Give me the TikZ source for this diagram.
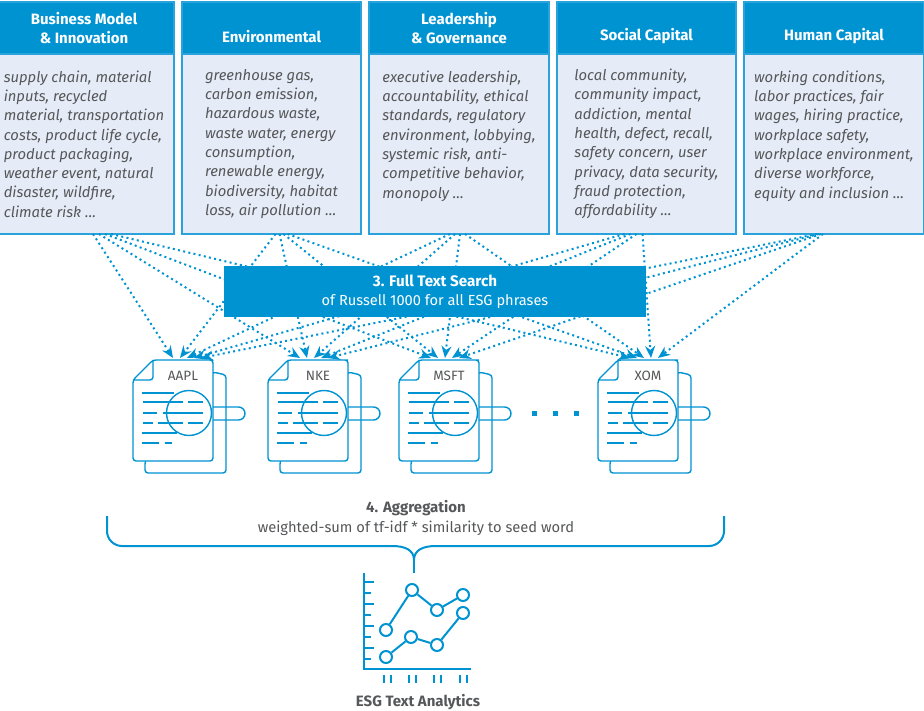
\documentclass[tikz,border=0pt]{standalone}
\usepackage{fontspec}
\setmainfont{Fira Sans}
\usetikzlibrary{positioning, arrows.meta}
\definecolor{esgblue}{HTML}{0093D2}
\definecolor{esgedge}{HTML}{2AA3DC}
\definecolor{esgpale}{HTML}{E6ECF7}
\definecolor{esggrey}{HTML}{555759}
\newcommand{\fs}[2][19.4]{\fontsize{#2}{#1}\selectfont}
\tikzset{
  headbox/.style={draw=esgedge, fill=esgblue, line width=2pt, text=white, align=center, font=\fs[18.6]{15}\bfseries, minimum height=52pt, inner sep=0pt, outer sep=0pt},
  bodybox/.style={draw=esgedge, fill=esgpale, line width=2pt, text=esggrey, align=left, font=\fs[19.3]{14.8}\itshape, minimum height=180pt, inner sep=0pt, outer sep=0pt, execute at end node={\\[-12.4pt]\mbox{}}},
  dotline/.style={esgblue, line width=2pt, dash pattern=on 2pt off 3.3pt, -{Stealth[length=12pt,width=10pt]}},
  iconline/.style={esgblue, line width=1.4pt},
  chartline/.style={esgblue, line width=2pt},
  marker/.style={circle, draw=esgblue, fill=white, line width=2pt, minimum size=12pt, inner sep=0pt},
  gapdot/.style={fill=esgblue, minimum size=5pt, inner sep=0pt},
  docicon/.pic={
    \draw[iconline, fill=white, rounded corners=3pt] (12,101) -- (12,113) -- (93,113) -- (93,15) -- (80,12) -- cycle;
    \draw[iconline, fill=white, rounded corners=3pt] (20,0) -- (77,0) -- (80,0) -- (80,101) -- (0,101) -- (0,20) -- cycle;
    \draw[iconline, rounded corners=3pt] (20,0) -- (20,20) -- (0,20);
    \draw[iconline] (9,33) -- (41,33);
    \draw[iconline] (10,42) -- (50,42) (55,42) -- (70,42);
    \draw[iconline] (10,53) -- (24,53) (30,53) -- (70,53);
    \draw[iconline] (10,63) -- (20,63) (25,63) -- (50,63) (55,63) -- (70,63);
    \draw[iconline] (9,73) -- (44,73);
    \draw[iconline] (9,83) -- (26,83) (32,83) -- (39,83);
    \draw[iconline] (56,53) circle[radius=22.5pt];
    \draw[iconline, rounded corners=6.5pt] (80,47) -- (112,47) -- (112,60) -- (80,60);
    \node[text=esggrey, font=\fs{13.5}, inner sep=0pt] (-name) at (50,16) {#1};
    \coordinate (-top) at (0,-2);
  }
}
\begin{document}
\begin{tikzpicture}[x=1pt, y=-1pt]
  \useasboundingbox (0,0) rectangle (924,711);

  \node[headbox, minimum width=180pt] (biz) at (84,28) {Business Model\\\& Innovation};
  \node[bodybox, minimum width=180pt, below=0pt of biz] (bizbody) {supply chain, material\\inputs, recycled\\material, transportation\\costs, product life cycle,\\product packaging,\\weather event, natural\\disaster, wildfire,\\climate risk \dots};

  \node[headbox, minimum width=179pt] (env) at (271.5,28) {\phantom{X}\\Environmental};
  \node[bodybox, minimum width=179pt, below=0pt of env] (envbody) {greenhouse gas,\\carbon emission,\\hazardous waste,\\waste water, energy\\consumption,\\renewable energy,\\biodiversity, habitat\\loss, air pollution \dots};

  \node[headbox, minimum width=180pt] (lead) at (459,28) {Leadership\\\& Governance};
  \node[bodybox, minimum width=180pt, below=0pt of lead] (leadbody) {executive leadership,\\accountability, ethical\\standards, regulatory\\environment, lobbying,\\systemic risk, anti-\\competitive behavior,\\monopoly \dots\\\mbox{}};

  \node[headbox, minimum width=179pt] (soc) at (646.5,28) {\phantom{X}\\Social Capital};
  \node[bodybox, minimum width=179pt, below=0pt of soc] (socbody) {local community,\\community impact,\\addiction, mental\\health, defect, recall,\\safety concern, user\\privacy, data security,\\fraud protection,\\affordability \dots};

  \node[headbox, minimum width=180pt] (hum) at (834,28) {\phantom{X}\\Human Capital};
  \node[bodybox, minimum width=180pt, below=0pt of hum] (humbody) {working conditions,\\labor practices, fair\\wages, hiring practice,\\workplace safety,\\workplace environment,\\diverse workforce,\\equity and inclusion \dots\\\mbox{}};

  % documents
  \pic (aapl) at (133,360) {docicon=AAPL};
  \pic (nke) at (268,360) {docicon=NKE};
  \pic (msft) at (399,360) {docicon=MSFT};
  \pic (xom) at (598,360) {docicon=XOM};

  \foreach \x [count=\k] in {534,555,576}
    \node[gapdot] (gap\k) at (\x,413) {};

  % every source box to every document
  \coordinate (bizout) at ([xshift=9pt]bizbody.south);
  \coordinate (envout) at ([xshift=4pt]envbody.south);
  \coordinate (leadout) at ([xshift=-9pt]leadbody.south);
  \coordinate (socout) at ([xshift=-22pt]socbody.south);
  \coordinate (humout) at ([xshift=-17pt]humbody.south);
  \foreach \src/\spread [count=\i from 0] in {bizout/6, envout/4, leadout/5, socout/6, humout/2}
    \foreach \doc/\base [count=\j from 0] in {aapl/40, nke/32, msft/32, xom/32}
      \draw[dotline] ([xshift={\j*\spread*1pt}]\src) -- ([xshift={(\base+\i*7)*1pt}]\doc-top);

  \node[fill=esgblue, text=white, align=center, font=\fs{14.6}, minimum width=422pt, minimum height=51pt, inner sep=0pt] (search) at (435,291.5) {\fs{15.2}\textbf{3. Full Text Search}\\\fs{14.6}\raisebox{0pt}{of Russell 1000 for all ESG phrases}};

  \node[text=esggrey, align=center, font=\fs{14.7}, inner sep=0pt] (agg) at (416,518) {\fs{15}\textbf{4. Aggregation}\\\fs{14.7}weighted-sum of tf-idf * similarity to seed word};

  \coordinate (braceL) at (107,516);
  \coordinate (braceR) at (724,516);
  \coordinate (braceTip) at (414,560);
  \coordinate (braceEnd) at (414,573);
  \draw[chartline, rounded corners=15pt] (braceL) -- (107,546) -- (392,546);
  \draw[chartline, rounded corners=15pt] (braceR) -- (724,546) -- (436,546);
  \draw[chartline] (392,546) .. controls (405,546) and (414,550) .. (braceTip) .. controls (414,550) and (423,546) .. (436,546);
  \draw[chartline] (braceTip) -- (braceEnd);

  % chart
  \coordinate (axistop) at (364,573);
  \coordinate (axiscorner) at (364,669);
  \coordinate (axisend) at (471,669);
  \draw[chartline] (axistop) -- (axiscorner) -- (axisend);
  \foreach \y/\len in {582/10, 593/7, 604/10, 615/7, 626/10, 637/7, 648/10, 659/7}
    \draw[chartline] (364,\y) -- (364+\len,\y);
  \foreach \x in {383.5,391,408.5,416,434,441,459.5,467}
    \draw[chartline] (\x,675) -- (\x,683);

  \node[marker] (up1) at (386,630) {};
  \node[marker] (up2) at (412,590) {};
  \node[marker] (up3) at (437,610) {};
  \node[marker] (up4) at (463,595) {};
  \node[marker] (lo1) at (386,657) {};
  \node[marker] (lo2) at (411,637) {};
  \node[marker] (lo3) at (437,645) {};
  \node[marker] (lo4) at (463,613) {};
  \draw[chartline] (up1)--(up2)--(up3)--(up4);
  \draw[chartline] (lo1)--(lo2)--(lo3)--(lo4);

  \node[text=esggrey, font=\fs{15}\bfseries, inner sep=0pt] (title) at (418,702) {ESG Text Analytics};
\end{tikzpicture}
\end{document}
